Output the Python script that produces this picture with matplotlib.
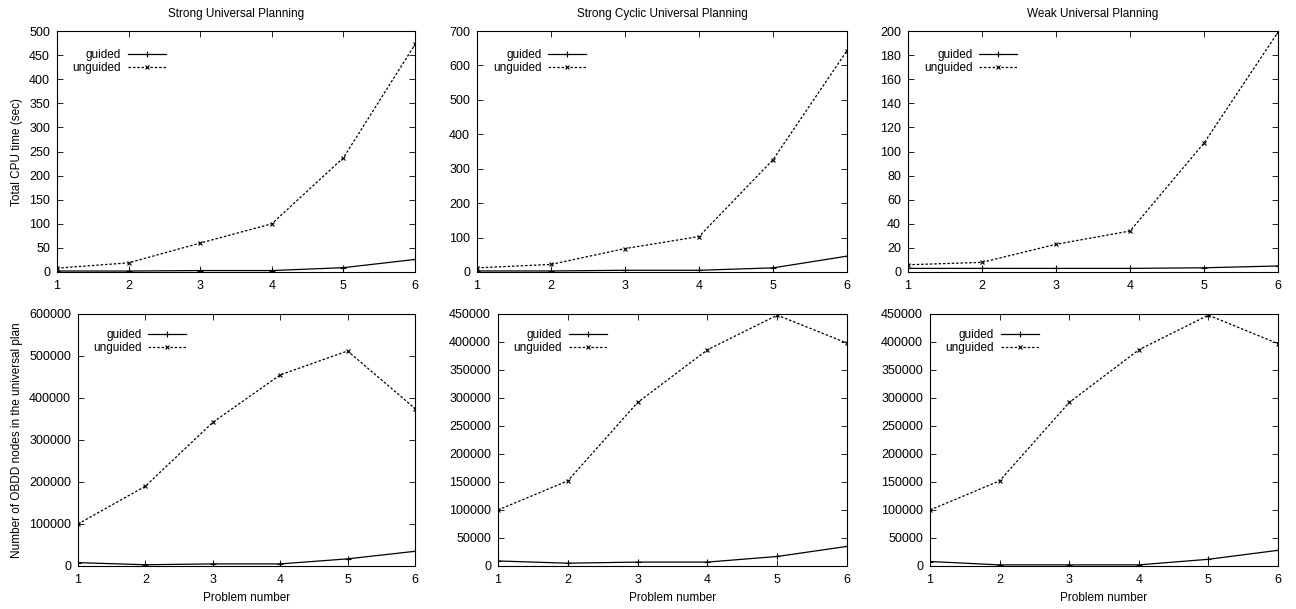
import numpy as np
import matplotlib.pyplot as plt

plt.rcParams['font.family'] = ['Liberation Sans', 'DejaVu Sans']
plt.rcParams['font.size'] = 8.5

problems = [1, 2, 3, 4, 5, 6]

titles = ['Strong Universal Planning', 'Strong Cyclic Universal Planning',
          'Weak Universal Planning']

# CPU time (sec)
cpu_guided = [
    [2, 2, 3, 3, 9, 26],
    [3, 3, 5, 5, 12, 46],
    [3, 3, 3, 3, 3.5, 5],
]
cpu_unguided = [
    [8, 19, 60, 100, 237, 472],
    [12, 22, 68, 103, 326, 643],
    [6, 8, 23, 34, 107, 199],
]
cpu_ylim = [500, 700, 200]
cpu_step = [50, 100, 20]

# OBDD nodes
nodes_guided = [
    [8000, 3000, 5000, 5000, 17000, 35000],
    [9000, 5000, 7000, 7000, 17000, 35000],
    [8000, 2000, 2000, 2000, 12000, 28000],
]
nodes_unguided = [
    [100000, 190000, 342000, 455000, 512000, 375000],
    [100000, 152000, 292000, 386000, 448000, 398000],
    [100000, 152000, 292000, 386000, 448000, 397000],
]
nodes_ylim = [600000, 450000, 450000]
nodes_step = [100000, 50000, 50000]

W, H = 1296, 609
fig = plt.figure(figsize=(W / 100, H / 100), dpi=100)

# axes boxes in pixels: left, top, right, bottom
top_boxes = [(57, 31, 415, 272), (477, 31, 847, 272), (908, 31, 1278, 272)]
bot_boxes = [(78, 314, 415, 566), (498, 314, 847, 566), (930, 314, 1278, 566)]


def make_ax(box):
    l, t, r, b = box
    return fig.add_axes([l / W, 1 - b / H, (r - l) / W, (b - t) / H])


def draw(ax, guided, unguided, ymax, step, leg_y):
    ax.plot(problems, guided, color='black', lw=0.9, marker='+', ms=4,
            mew=0.8, label='guided')
    ax.plot(problems, unguided, color='black', lw=0.9, ls=(0, (2, 1.5)),
            marker='x', ms=3.5, mew=0.8, label='unguided')
    ax.set_xlim(1, 6)
    ax.set_ylim(0, ymax)
    ax.set_xticks(problems)
    ax.set_yticks(np.arange(0, ymax + 1, step))
    ax.tick_params(direction='in', top=True, right=True, length=4, width=0.6,
                   labelsize=9)
    ax.tick_params(axis='x', pad=6)
    ax.tick_params(axis='y', pad=5)
    for s in ax.spines.values():
        s.set_linewidth(0.8)
    leg = ax.legend(loc='upper left', bbox_to_anchor=(0.03, leg_y),
                    markerfirst=False, frameon=False, handlelength=3.2,
                    handletextpad=0.6, labelspacing=0.1, fontsize=8.5,
                    borderaxespad=0)
    for txt in leg.get_texts():
        txt.set_ha('right')


for i in range(3):
    ax = make_ax(top_boxes[i])
    draw(ax, cpu_guided[i], cpu_unguided[i], cpu_ylim[i], cpu_step[i], 0.945)
    ax.set_title(titles[i], fontsize=8.5, pad=10)
    if i == 0:
        ax.set_ylabel('Total CPU time (sec)', fontsize=8.5)

for i in range(3):
    ax = make_ax(bot_boxes[i])
    draw(ax, nodes_guided[i], nodes_unguided[i], nodes_ylim[i], nodes_step[i],
         0.96)
    ax.set_xlabel('Problem number', fontsize=8.5, labelpad=4)
    if i == 0:
        ax.set_ylabel('Number of OBDD nodes in the universal plan',
                      fontsize=8.5)

fig.savefig('out.png', dpi=100)
